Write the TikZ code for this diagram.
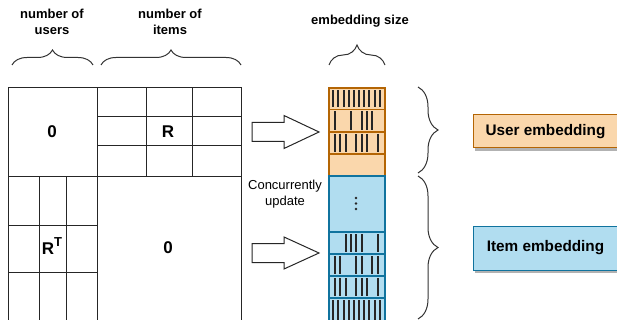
\documentclass[tikz,border=0pt]{standalone}
\usepackage{fontspec}
\setmainfont{Liberation Sans}
\usetikzlibrary{decorations.pathreplacing,shadows}
\definecolor{ofill}{HTML}{FAD7AC}
\definecolor{ostroke}{HTML}{B46504}
\definecolor{bfill}{HTML}{B1DDF0}
\definecolor{bstroke}{HTML}{10739E}
\newcommand\embbars[3]{\foreach \k in {#1} \draw[barline] ({335+5.33*\k},#2) -- ({335+5.33*\k},#3);}
\newcommand\fullbars[2]{\foreach \k in {0,...,9} \draw[barline] ({333.3+5.15*\k},#1) -- ({333.3+5.15*\k},#2);}
\begin{document}
\begin{tikzpicture}[x=1pt,y=-1pt,
  gridline/.style={draw=black!85,line width=1pt},
  big/.style={font=\fontsize{17}{20}\selectfont\bfseries},
  hdr/.style={font=\fontsize{13}{16}\selectfont\bfseries,align=center},
  brc/.style={draw=black!80,line width=1pt,decorate,decoration={brace,amplitude=#1}},
  ocell/.style={fill=ofill,draw=ostroke,line width=1.3pt},
  bcell/.style={fill=bfill,draw=bstroke,line width=1.3pt},
  barline/.style={draw=black!85,line width=2pt},
  arr/.style={draw=black!85,line width=1pt,fill=white},
  embox/.style={draw=#1,line width=1pt,inner sep=0pt,
     font=\fontsize{15.3}{18}\selectfont\bfseries,minimum width=145pt,
     drop shadow={shadow xshift=2pt,shadow yshift=-3pt,fill=black!30,opacity=1}}
]
\useasboundingbox (0,0) rectangle (617,320);
\clip (0,0) rectangle (617,320);
% matrix
\draw[gridline] (8,88) rectangle (241,322);
\draw[gridline] (97,88) -- (97,322) (8,177) -- (241,177);
\draw[gridline] (146,88) -- (146,177) (192,88) -- (192,177) (97,117) -- (241,117) (97,146) -- (241,146);
\draw[gridline] (39,177) -- (39,322) (66,177) -- (66,322) (8,225) -- (97,225) (8,272) -- (97,272);
\node[big] (z1) at (52,132) {0};
\node[big] (r) at (168,132) {R};
\node[big] (rt) at (52,246) {R\raisebox{0.5em}{\fontsize{13}{13}\selectfont T}};
\node[big] (z2) at (168,248) {0};
% header labels and braces
\node[hdr] (users) at (52,22) {number of\\users};
\node[hdr] (items) at (170,22) {number of\\items};
\node[hdr] (esize) at (360,21) {embedding size};
\draw[brc=15pt] (12,65) -- (93,65);
\draw[brc=15pt] (101,65) -- (241,65);
\draw[brc=20pt] (329,65) -- (385,65);
% embedding column
\draw[ocell] (329,88) rectangle (385,109.5);
\draw[ocell] (329,109.5) rectangle (385,132);
\draw[ocell] (329,132) rectangle (385,154);
\draw[ocell] (329,154) rectangle (385,176);
\draw[bcell] (329,176) rectangle (385,232);
\draw[bcell] (329,232) rectangle (385,254);
\draw[bcell] (329,254) rectangle (385,276);
\draw[bcell] (329,276) rectangle (385,298);
\draw[bcell] (329,298) rectangle (385,324);
\fullbars{90.5}{107.5}
\embbars{0,3,5,6,7}{111.5}{130}
\embbars{0,1,2,4,5,6,8}{134}{152}
\embbars{2,3,4,5,8}{234}{252}
\embbars{0,1,4,5,7,8}{256}{274}
\embbars{0,1,2,4,5,6,8}{278}{296}
\fullbars{300}{322}
\foreach \yy in {198,203.5,209} \fill[black!85] (356,\yy) circle (1.3);
% arrows
\draw[arr] (252,122.5) -- (284,122.5) -- (284,115.5) -- (319,132) -- (284,148.5) -- (284,141.5) -- (252,141.5) -- cycle;
\draw[arr] (252,243.5) -- (284,243.5) -- (284,237) -- (319,253) -- (284,269) -- (284,262.5) -- (252,262.5) -- cycle;
\node[font=\fontsize{13}{16}\selectfont,align=center] (cu) at (285,194) {Concurrently\\update};
% right braces
\draw[brc=20pt] (418,87) -- (418,173);
\draw[brc=20pt] (418,176) -- (418,319);
% embedding labels
\node[embox=ostroke,fill=ofill,minimum height=33pt] (ue) at (545.5,131.5) {User embedding};
\node[embox=bstroke,fill=bfill,minimum height=44pt] (ie) at (545.5,248) {Item embedding};
\end{tikzpicture}
\end{document}
